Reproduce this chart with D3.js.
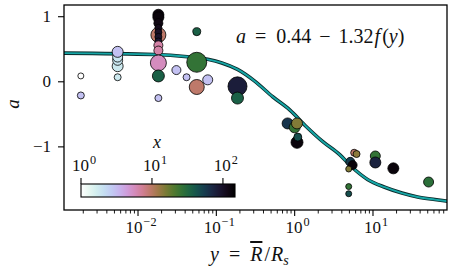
<!DOCTYPE html>
<html>
<head>
<meta charset="utf-8">
<script src="https://cdn.jsdelivr.net/npm/d3@7"></script>
<style>
  html, body { margin: 0; padding: 0; background: #fff; }
</style>
</head>
<body>
<svg id="chart"></svg>
<script>
// scatter points: log10(y), a, colour variable x, marker radius (draw order)
const pointLogY = [-2.73, -2.73, -2.26, -2.26, -2.26, -2.26, -2.26,
  -1.74, -1.74, -1.74, -1.74, -1.74, -1.74, -1.74, -1.74, -1.74, -1.74, -1.74, -1.74, -1.74,
  -1.25, -1.25, -1.51, -1.38, -1.25, -1.11, -0.73, -0.73,
  0.03, -0.09, 0.0, 0.03, 0.04,
  0.76, 0.79, 0.71, 0.74, 0.69, 0.69, 0.69, 1.03, 1.03, 1.26, 1.71];
const pointA = [0.09, -0.21, 0.07, 0.24, 0.33, 0.38, 0.46,
  0.72, 1.03, 0.99, 0.90, 0.83, 0.76, 0.69, 0.62, 0.56, 0.48, 0.29, 0.09, -0.25,
  0.77, 0.30, 0.18, 0.07, -0.08, 0.03, -0.07, -0.25,
  -0.93, -0.64, -0.70, -0.64, -0.85,
  -1.09, -1.11, -1.23, -1.28, -1.34, -1.61, -1.72, -1.14, -1.24, -1.33, -1.54];
const pointX = [1.0, 3.0, 1.8, 1.8, 1.9, 1.9, 3.0,
  9.5, 130, 130, 120, 110, 100, 95, 90, 6.5, 6.5, 5.6, 36, 3.0,
  36, 26, 3.0, 3.0, 9.5, 3.0, 80, 36,
  130, 60, 26, 15, 45,
  9.5, 14, 55, 130, 15, 26, 45, 26, 75, 130, 28];
const pointR = [3, 3.5, 3.5, 5.5, 5, 5, 5.5,
  7.5, 5.5, 5.5, 4.5, 3.5, 3.5, 3.5, 3.5, 4.5, 4.5, 8, 6, 3.5,
  4, 10, 4.5, 3.5, 7.5, 5, 9.5, 6,
  6, 5.5, 5.5, 5.5, 4,
  3.5, 3.5, 4.5, 4.5, 3, 3, 3, 5, 5.5, 5.5, 5];

// fitted curve a = 0.44 - 1.32 f(y)
const fitLogY = [-2.95, -1.79, -1.37, -1.11, -0.93, -0.73, -0.51, -0.28, -0.06, 0.15, 0.36, 0.575, 0.73, 0.93, 1.15, 1.37, 1.57, 1.79, 1.95];
const fitA = [0.44, 0.42, 0.385, 0.345, 0.29, 0.19, 0.01, -0.23, -0.435, -0.69, -0.92, -1.12, -1.31, -1.50, -1.62, -1.71, -1.77, -1.81, -1.835];

const xTickExp = [-2, -1, 0, 1];
const yTicks = [-1, 0, 1];
const cbarTickExp = [0, 1, 2];

const W = 452, H = 271;
const m = { left: 64, right: 5, top: 5, bottom: 61 };
const svg = d3.select('#chart').attr('width', W).attr('height', H).attr('viewBox', [0, 0, W, H])
  .attr('font-family', 'Liberation Serif, DejaVu Serif, serif').attr('fill', '#111');

const x = d3.scaleLog([Math.pow(10, -2.945), Math.pow(10, 1.945)], [m.left, W - m.right]);
const y = d3.scaleLinear([-1.97, 1.18], [H - m.bottom, m.top]);
const cmax = Math.pow(10, 2.17);
const colorOf = (v) => d3.interpolateCubehelixDefault(1 - Math.log10(v) / Math.log10(cmax));

// clip
svg.append('clipPath').attr('id', 'plotclip').append('rect')
  .attr('x', m.left).attr('y', m.top)
  .attr('width', W - m.left - m.right).attr('height', H - m.top - m.bottom);

const plot = svg.append('g').attr('clip-path', 'url(#plotclip)');

// fit line: dark edge, teal core
const fitData = fitLogY.map((v, i) => [Math.pow(10, v), fitA[i]]);
const line = d3.line().curve(d3.curveMonotoneX).x((d) => x(d[0])).y((d) => y(d[1]));
plot.append('path').attr('d', line(fitData)).attr('fill', 'none')
  .attr('stroke', '#0a2a2a').attr('stroke-width', 3.6);
plot.append('path').attr('d', line(fitData)).attr('fill', 'none')
  .attr('stroke', '#16a6a6').attr('stroke-width', 1.9);

// points
plot.append('g').selectAll('circle')
  .data(pointLogY.map((v, i) => ({ ly: v, a: pointA[i], c: pointX[i], r: pointR[i] })))
  .join('circle')
  .attr('cx', (d) => x(Math.pow(10, d.ly)))
  .attr('cy', (d) => y(d.a))
  .attr('r', (d) => d.r)
  .attr('fill', (d) => colorOf(d.c))
  .attr('stroke', '#000')
  .attr('stroke-width', 0.8);

// frame
svg.append('rect').attr('x', m.left).attr('y', m.top)
  .attr('width', W - m.left - m.right).attr('height', H - m.top - m.bottom)
  .attr('fill', 'none').attr('stroke', '#000').attr('stroke-width', 1.3);

// x axis ticks (major + minor)
const xAxisG = svg.append('g');
const xb = H - m.bottom;
const minor = [];
for (let e = -3; e <= 1; e++) for (let k = 2; k <= 9; k++) {
  const v = k * Math.pow(10, e);
  if (v >= x.domain()[0] && v <= x.domain()[1]) minor.push(v);
}
xAxisG.selectAll('.minor').data(minor).join('line')
  .attr('x1', (d) => x(d)).attr('x2', (d) => x(d)).attr('y1', xb).attr('y2', xb + 3.5)
  .attr('stroke', '#000').attr('stroke-width', 0.9);
xAxisG.selectAll('.major').data(xTickExp).join('line')
  .attr('x1', (d) => x(Math.pow(10, d))).attr('x2', (d) => x(Math.pow(10, d)))
  .attr('y1', xb).attr('y2', xb + 6).attr('stroke', '#000').attr('stroke-width', 1.1);

function powLabel(g, exp, cx, baseY, size) {
  const t = g.append('text').attr('x', cx).attr('y', baseY)
    .attr('text-anchor', 'middle').attr('font-size', size);
  t.append('tspan').text('10');
  t.append('tspan').attr('dx', 1).attr('dy', -size * 0.42).attr('font-size', size * 0.72)
    .text(exp < 0 ? '\u2212' + (-exp) : String(exp));
  return t;
}
xTickExp.forEach((e) => powLabel(xAxisG, e, x(Math.pow(10, e)) + 3, 233, 17));

// y axis
const yAxisG = svg.append('g');
yAxisG.selectAll('line').data(yTicks).join('line')
  .attr('x1', m.left - 6).attr('x2', m.left).attr('y1', (d) => y(d)).attr('y2', (d) => y(d))
  .attr('stroke', '#000').attr('stroke-width', 1.1);
yAxisG.selectAll('text').data(yTicks).join('text')
  .attr('x', m.left - 13).attr('y', (d) => y(d) + 5.5)
  .attr('text-anchor', 'end').attr('font-size', 17)
  .text((d) => (d < 0 ? '\u2212' + (-d) : d));

// axis labels
svg.append('text').attr('transform', 'translate(19,104) rotate(-90)')
  .attr('text-anchor', 'middle').attr('font-size', 19).attr('font-style', 'italic').text('a');

// math-like text built from pieces: [text, italic, gap before, dy, size]
function mathText(parent, x0, y0, size, parts) {
  const t = parent.append('text').attr('x', x0).attr('y', y0).attr('font-size', size);
  parts.forEach(([s, it, gap, dy, fs]) => {
    const sp = t.append('tspan').attr('dx', gap || 0).text(s);
    if (it) sp.attr('font-style', 'italic');
    if (dy) sp.attr('dy', dy);
    if (fs) sp.attr('font-size', fs);
  });
  return t;
}
const xl = mathText(svg, 210, 261, 20, [
  ['y', true], ['=', false, 10], ['R', true, 10], ['/', false, 2], ['R', true, 1], ['s', true, 0, 4, 14]
]);
xl.selectAll('tspan').filter((d, i) => i === 2).attr('text-decoration', 'overline');

// equation
mathText(svg, 236, 43, 20, [
  ['a', true], ['=', false, 9], ['0.44', false, 10], ['\u2212', false, 8],
  ['1.32', false, 8], ['f', true, 1], ['(', false, 2], ['y', true], [')', false]
]);

// colour bar
const cb = { x0: 81, x1: 235, y0: 184, y1: 197 };
const cx = d3.scaleLog([1, cmax], [cb.x0, cb.x1]);
const grad = svg.append('defs').append('linearGradient').attr('id', 'cbgrad');
d3.range(0, 1.0001, 0.05).forEach((t) => {
  grad.append('stop').attr('offset', t).attr('stop-color', d3.interpolateCubehelixDefault(1 - t));
});
svg.append('rect').attr('x', cb.x0).attr('y', cb.y0).attr('width', cb.x1 - cb.x0).attr('height', cb.y1 - cb.y0)
  .attr('fill', 'url(#cbgrad)').attr('stroke', '#000').attr('stroke-width', 1.1);
const cbG = svg.append('g');
cbarTickExp.forEach((e) => {
  const px = cx(Math.pow(10, e));
  cbG.append('line').attr('x1', px).attr('x2', px).attr('y1', cb.y0).attr('y2', cb.y0 - 6)
    .attr('stroke', '#000').attr('stroke-width', 1.1);
  powLabel(cbG, e, px + 3, 171, 17);
});
svg.append('text').attr('x', 157).attr('y', 148).attr('text-anchor', 'middle')
  .attr('font-size', 18).attr('font-style', 'italic').text('x');
</script>
</body>
</html>
